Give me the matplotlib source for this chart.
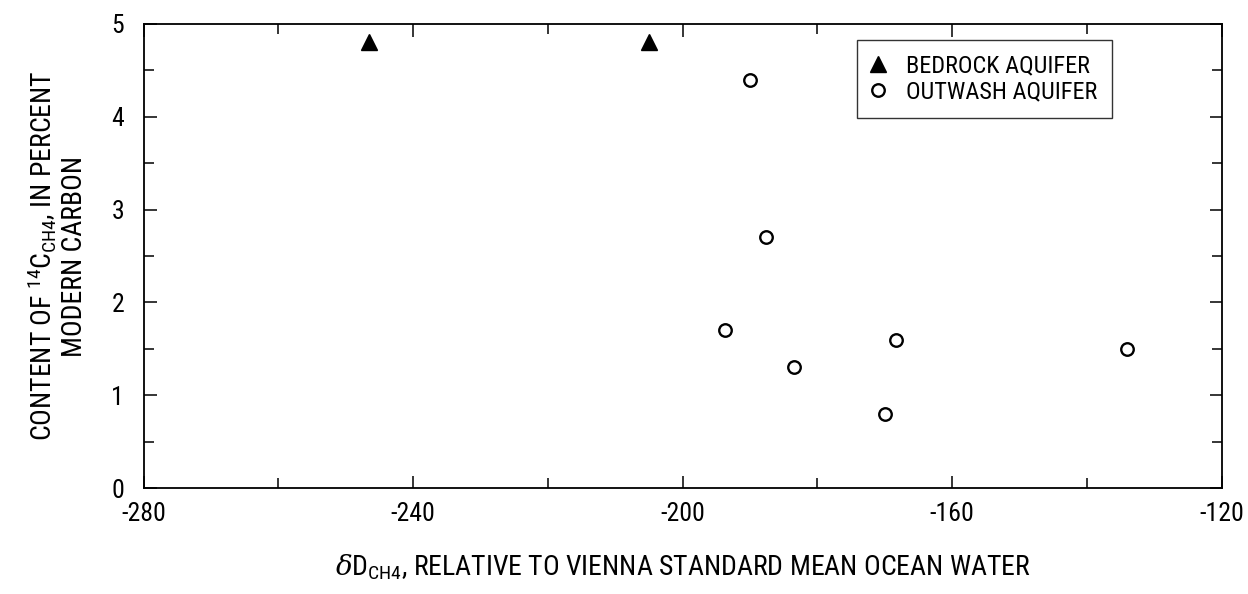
import matplotlib
matplotlib.use("Agg")
import matplotlib.pyplot as plt
from matplotlib.ticker import MultipleLocator

plt.rcParams["font.family"] = ["Roboto Condensed", "Liberation Sans Narrow", "Liberation Sans", "DejaVu Sans"]
plt.rcParams["mathtext.fontset"] = "custom"
plt.rcParams["mathtext.rm"] = "Liberation Sans"
plt.rcParams["mathtext.it"] = "DejaVu Serif:italic"

# Bedrock aquifer samples
bedrock_dD = [-246.5, -205]
bedrock_c14 = [4.8, 4.8]

# Outwash aquifer samples
outwash_dD = [-190, -187.7, -193.7, -183.5, -170, -168.3, -134]
outwash_c14 = [4.4, 2.7, 1.7, 1.3, 0.8, 1.6, 1.5]

fig, ax = plt.subplots(figsize=(12.48, 5.94), dpi=100)
fig.subplots_adjust(left=0.115, right=0.979, top=0.96, bottom=0.178)

ax.plot(bedrock_dD, bedrock_c14, "^", color="black", markersize=12,
        linestyle="none", label="BEDROCK AQUIFER")
ax.plot(outwash_dD, outwash_c14, "o", markerfacecolor="white", markeredgecolor="black",
        markeredgewidth=1.7, markersize=9, linestyle="none", label="OUTWASH AQUIFER")

ax.set_xlim(-280, -120)
ax.set_ylim(0, 5)
ax.xaxis.set_major_locator(MultipleLocator(40))
ax.xaxis.set_minor_locator(MultipleLocator(20))
ax.yaxis.set_major_locator(MultipleLocator(1))
ax.yaxis.set_minor_locator(MultipleLocator(0.5))
ax.tick_params(which="both", direction="in", top=True, right=True,
               labelsize=18.5, width=1.1)
ax.tick_params(axis="x", pad=10)
ax.tick_params(axis="y", pad=14)
ax.tick_params(which="major", length=9)
ax.tick_params(which="minor", length=7)
ax.set_xticklabels([f"{v:g}" for v in ax.get_xticks()])
for s in ax.spines.values():
    s.set_linewidth(1.3)

ax.set_xlabel(r"$\delta$D$_{\mathregular{CH4}}$, RELATIVE TO VIENNA STANDARD MEAN OCEAN WATER",
              fontsize=20, labelpad=19)
ax.set_ylabel("CONTENT OF $^{\\mathregular{14}}$C$_{\\mathregular{CH4}}$, IN PERCENT\nMODERN CARBON",
              fontsize=20, labelpad=17, linespacing=1.15)

leg = ax.legend(loc="upper right", fontsize=17.5, frameon=True, fancybox=False,
                edgecolor="black", borderpad=0.6, handletextpad=0.88,
                labelspacing=0.14, borderaxespad=0, handlelength=0.53,
                bbox_to_anchor=(0.898, 0.966))
leg.get_frame().set_linewidth(1.0)

fig.savefig("out.png", dpi=100)
